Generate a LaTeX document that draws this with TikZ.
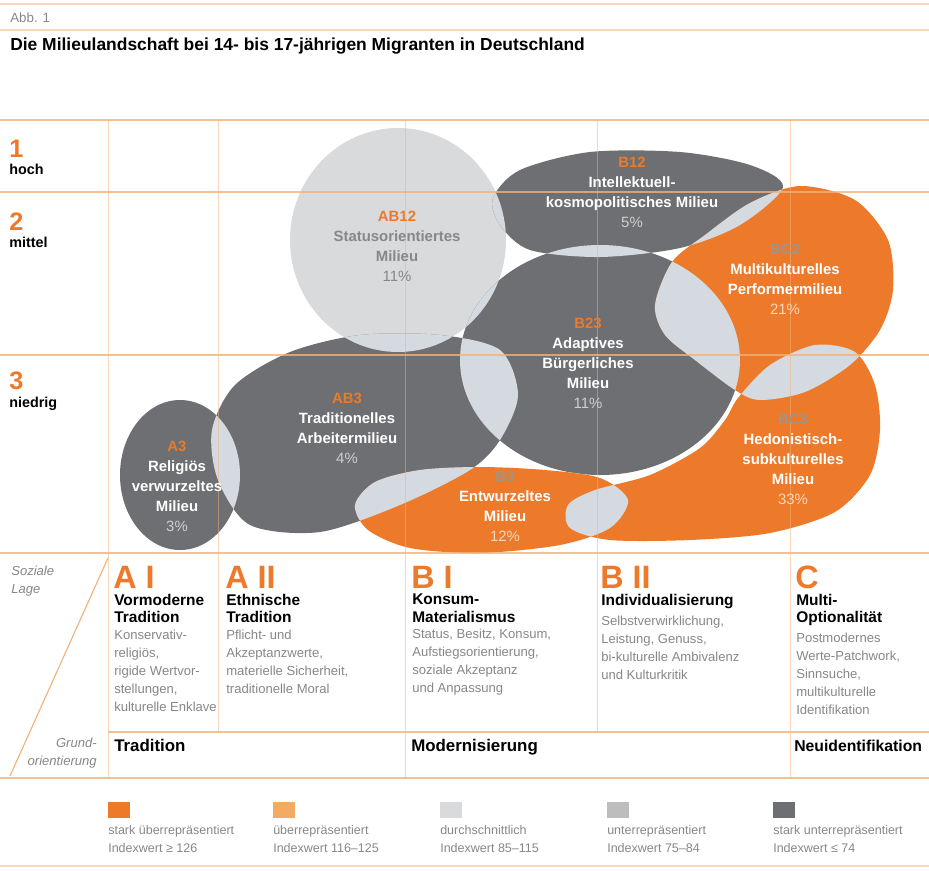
\documentclass[tikz,border=0pt]{standalone}
\usepackage{fontspec}
\setmainfont{Liberation Sans}
\usetikzlibrary{positioning}
\definecolor{mlorange}{HTML}{EC7A2A}
\definecolor{mlorlight}{HTML}{F5AA63}
\definecolor{mldark}{HTML}{6E6F72}
\definecolor{mlgray}{HTML}{BDBDBD}
\definecolor{mllight}{HTML}{D9DADC}
\definecolor{mllens}{HTML}{D5DAE0}
\definecolor{mlline}{HTML}{F0B27C}
\definecolor{mltext}{HTML}{878787}
\definecolor{mlpct}{HTML}{CFCFCF}
\definecolor{mlpcto}{HTML}{FAD8B8}
\definecolor{mlcode}{HTML}{9B9590}
\newcommand\shpStatus{(398,240) ellipse [x radius=108, y radius=112]}
\newcommand\shpIntell{plot[smooth cycle] coordinates {(493,198) (520,170) (590,152) (680,152) (750,165) (783,187) (740,225) (680,248) (600,257) (530,250) (500,225)}}
\newcommand\shpAdapt{(600,360) ellipse [x radius=140, y radius=115]}
\newcommand\shpMulti{plot[smooth cycle] coordinates {(655,305) (672,262) (705,235) (750,203) (800,186) (855,200) (888,240) (893,290) (880,330) (850,365) (805,392) (760,400) (735,390) (695,360) (665,335)}}
\newcommand\shpHedon{plot[smooth cycle] coordinates {(738,398) (770,365) (815,345) (855,352) (875,385) (880,430) (870,475) (835,512) (770,533) (690,540) (610,540) (570,528) (568,505) (595,490) (650,475) (700,448) (725,420)}}
\newcommand\shpTrad{plot[smooth cycle] coordinates {(212,430) (235,385) (290,352) (360,335) (440,335) (500,350) (518,395) (500,440) (470,470) (400,505) (320,532) (250,525) (218,480)}}
\newcommand\shpRelig{(180,475) ellipse [x radius=60, y radius=75]}
\newcommand\shpEntw{plot[smooth cycle] coordinates {(355,505) (375,482) (420,470) (480,467) (545,470) (600,478) (628,500) (610,528) (560,545) (480,553) (410,548) (368,530)}}
\begin{document}
\begin{tikzpicture}[x=0.025cm, y=-0.025cm,
    hline/.style={mlline, line width=0.9pt, opacity=0.8},
    vline/.style={mlline, line width=0.6pt, opacity=0.5},
    lens/.style={fill=mllens},
    bubtxt/.style={align=center, text=white, font=\fontsize{10.6}{14.2}\selectfont\bfseries},
    rowno/.style={anchor=base west, inner sep=0pt, text=mlorange, font=\fontsize{18}{18}\selectfont\bfseries},
    rowname/.style={anchor=base west, inner sep=0pt, font=\fontsize{10.2}{11}\selectfont\bfseries},
    colhead/.style={anchor=base west, inner sep=0pt, text=mlorange, font=\fontsize{23}{23}\selectfont\bfseries},
    coltitle/.style={anchor=north west, inner sep=0pt, align=left, font=\fontsize{11}{12.4}\selectfont\bfseries},
    colbody/.style={anchor=north west, inner sep=0pt, align=left, text=mltext, font=\fontsize{9.3}{12.8}\selectfont},
    grund/.style={anchor=base west, inner sep=0pt, font=\fontsize{12}{13}\selectfont\bfseries},
    legbox/.style={minimum width=22*0.025cm, minimum height=16*0.025cm, inner sep=0pt, anchor=north west},
    legtxt/.style={anchor=north west, inner sep=0pt, align=left, text=mltext, font=\fontsize{8.9}{12.8}\selectfont}]
\useasboundingbox (0,0) rectangle (929,870);
\fill[mllight] \shpStatus;
\fill[mldark] \shpIntell;
\fill[mldark] \shpAdapt;
\fill[mlorange] \shpMulti;
\fill[mlorange] \shpHedon;
\fill[mldark] \shpTrad;
\fill[mldark] \shpRelig;
\fill[mlorange] \shpEntw;
\foreach \a/\b in {\shpStatus/\shpIntell, \shpStatus/\shpAdapt, \shpStatus/\shpTrad, \shpIntell/\shpAdapt, \shpIntell/\shpMulti, \shpAdapt/\shpMulti, \shpAdapt/\shpHedon, \shpAdapt/\shpTrad, \shpAdapt/\shpEntw, \shpMulti/\shpHedon, \shpTrad/\shpRelig, \shpTrad/\shpEntw, \shpEntw/\shpHedon}{
    \begin{scope}
        \clip \a;
        \fill[lens] \b;
    \end{scope}
}
\draw[hline, opacity=0.5] (0,4) -- (929,4);
\draw[hline, opacity=0.5] (0,30) -- (929,30);
\foreach \yy in {120,192,355,553,778}
    \draw[hline] (0,\yy) -- (929,\yy);
\draw[hline] (108,732) -- (929,732);
\draw[hline, opacity=0.5] (0,866) -- (929,866);
\foreach \xx in {108,405,790}
    \draw[vline] (\xx,120) -- (\xx,778);
\foreach \xx in {218,597}
    \draw[vline] (\xx,120) -- (\xx,732);
\draw[mlline, line width=0.8pt] (108,558) -- (10,776);
\node[anchor=base west, inner sep=0pt, text=mltext, font=\fontsize{9.5}{10}\selectfont] (abb) at (10,22) {Abb. 1};
\node[anchor=base west, inner sep=0pt, font=\fontsize{12.4}{13}\selectfont\bfseries] (ttl) at (10,50) {Die Milieulandschaft bei 14- bis 17-jährigen Migranten in Deutschland};
\node[rowno] (r1) at (9,157) {1};
\node[rowname] (r1n) at (9,174) {hoch};
\node[rowno] (r2) at (9,230) {2};
\node[rowname] (r2n) at (9,247) {mittel};
\node[rowno] (r3) at (9,389) {3};
\node[rowname] (r3n) at (9,407) {niedrig};
\node[bubtxt, text=mltext] (tStatus) at (397,246) {\textcolor{mlorange}{AB12}\\Statusorientiertes\\Milieu\\{\mdseries 11\%}};
\node[bubtxt] (tIntell) at (632,192) {\textcolor{mlorange}{B12}\\Intellektuell-\\kosmopolitisches Milieu\\{\mdseries\color{mlpct}5\%}};
\node[bubtxt] (tAdapt) at (588,363) {\textcolor{mlorange}{B23}\\Adaptives\\Bürgerliches\\Milieu\\{\mdseries\color{mlpct}11\%}};
\node[bubtxt] (tMulti) at (785,279) {\textcolor{mlcode}{BC2}\\Multikulturelles\\Performermilieu\\{\mdseries\color{mlpcto}21\%}};
\node[bubtxt] (tHedon) at (793,459) {\textcolor{mlcode}{BC3}\\Hedonistisch-\\subkulturelles\\Milieu\\{\mdseries\color{mlpcto}33\%}};
\node[bubtxt] (tTrad) at (347,428) {\textcolor{mlorange}{AB3}\\Traditionelles\\Arbeitermilieu\\{\mdseries\color{mlpct}4\%}};
\node[bubtxt] (tRelig) at (177,486) {\textcolor{mlorange}{A3}\\Religiös\\verwurzeltes\\Milieu\\{\mdseries\color{mlpct}3\%}};
\node[bubtxt] (tEntw) at (505,506) {\textcolor{mlcode}{B3}\\Entwurzeltes\\Milieu\\{\mdseries\color{mlpcto}12\%}};
\node[anchor=north west, inner sep=0pt, align=left, text=mltext, font=\fontsize{9.3}{12.8}\selectfont\itshape] (soz) at (11,566) {Soziale\\Lage};
\node[anchor=north east, inner sep=0pt, align=right, text=mltext, font=\fontsize{9.3}{12.8}\selectfont\itshape] (gro) at (97,738) {Grund-\\orientierung};
\node[colhead] (hAI) at (113,588) {A I};
\node[colhead] (hAII) at (225,588) {A II};
\node[colhead] (hBI) at (411,588) {B I};
\node[colhead] (hBII) at (600,588) {B II};
\node[colhead] (hC) at (795,588) {C};
\node[coltitle] (ttlAI) at (114,594) {Vormoderne\\Tradition};
\node[coltitle] (ttlAII) at (226,594) {Ethnische\\Tradition};
\node[coltitle] (ttlBI) at (412,594) {Konsum-\\Materialismus};
\node[coltitle] (ttlBII) at (601,594) {Individualisierung};
\node[coltitle] (ttlC) at (796,594) {Multi-\\Optionalität};
\node[colbody, below=4.5pt of ttlAI.south west, anchor=north west] (bAI) {Konservativ-\\religiös,\\rigide Wertvor-\\stellungen,\\kulturelle Enklave};
\node[colbody, below=4.5pt of ttlAII.south west, anchor=north west] (bAII) {Pflicht- und\\Akzeptanzwerte,\\materielle Sicherheit,\\traditionelle Moral};
\node[colbody, below=4.5pt of ttlBI.south west, anchor=north west] (bBI) {Status, Besitz, Konsum,\\Aufstiegsorientierung,\\soziale Akzeptanz\\und Anpassung};
\node[colbody, below=4.5pt of ttlBII.south west, anchor=north west] (bBII) {Selbstverwirklichung,\\Leistung, Genuss,\\bi-kulturelle Ambivalenz\\und Kulturkritik};
\node[colbody, below=4.5pt of ttlC.south west, anchor=north west] (bC) {Postmodernes\\Werte-Patchwork,\\Sinnsuche,\\multikulturelle\\Identifikation};
\node[grund] (gT) at (114,751) {Tradition};
\node[grund] (gM) at (411,751) {Modernisierung};
\node[grund, font=\fontsize{11.2}{13}\selectfont\bfseries] (gN) at (794,751) {Neuidentifikation};
\node[legbox, fill=mlorange] (l1) at (108,802) {};
\node[legbox, fill=mlorlight] (l2) at (273,802) {};
\node[legbox, fill=mllight] (l3) at (440,802) {};
\node[legbox, fill=mlgray] (l4) at (607,802) {};
\node[legbox, fill=mldark] (l5) at (773,802) {};
\node[legtxt, below=5pt of l1.south west, anchor=north west] (lt1) {stark überrepräsentiert\\Indexwert ≥ 126};
\node[legtxt, below=5pt of l2.south west, anchor=north west] (lt2) {überrepräsentiert\\Indexwert 116–125};
\node[legtxt, below=5pt of l3.south west, anchor=north west] (lt3) {durchschnittlich\\Indexwert 85–115};
\node[legtxt, below=5pt of l4.south west, anchor=north west] (lt4) {unterrepräsentiert\\Indexwert 75–84};
\node[legtxt, below=5pt of l5.south west, anchor=north west] (lt5) {stark unterrepräsentiert\\Indexwert ≤ 74};
\end{tikzpicture}
\end{document}
